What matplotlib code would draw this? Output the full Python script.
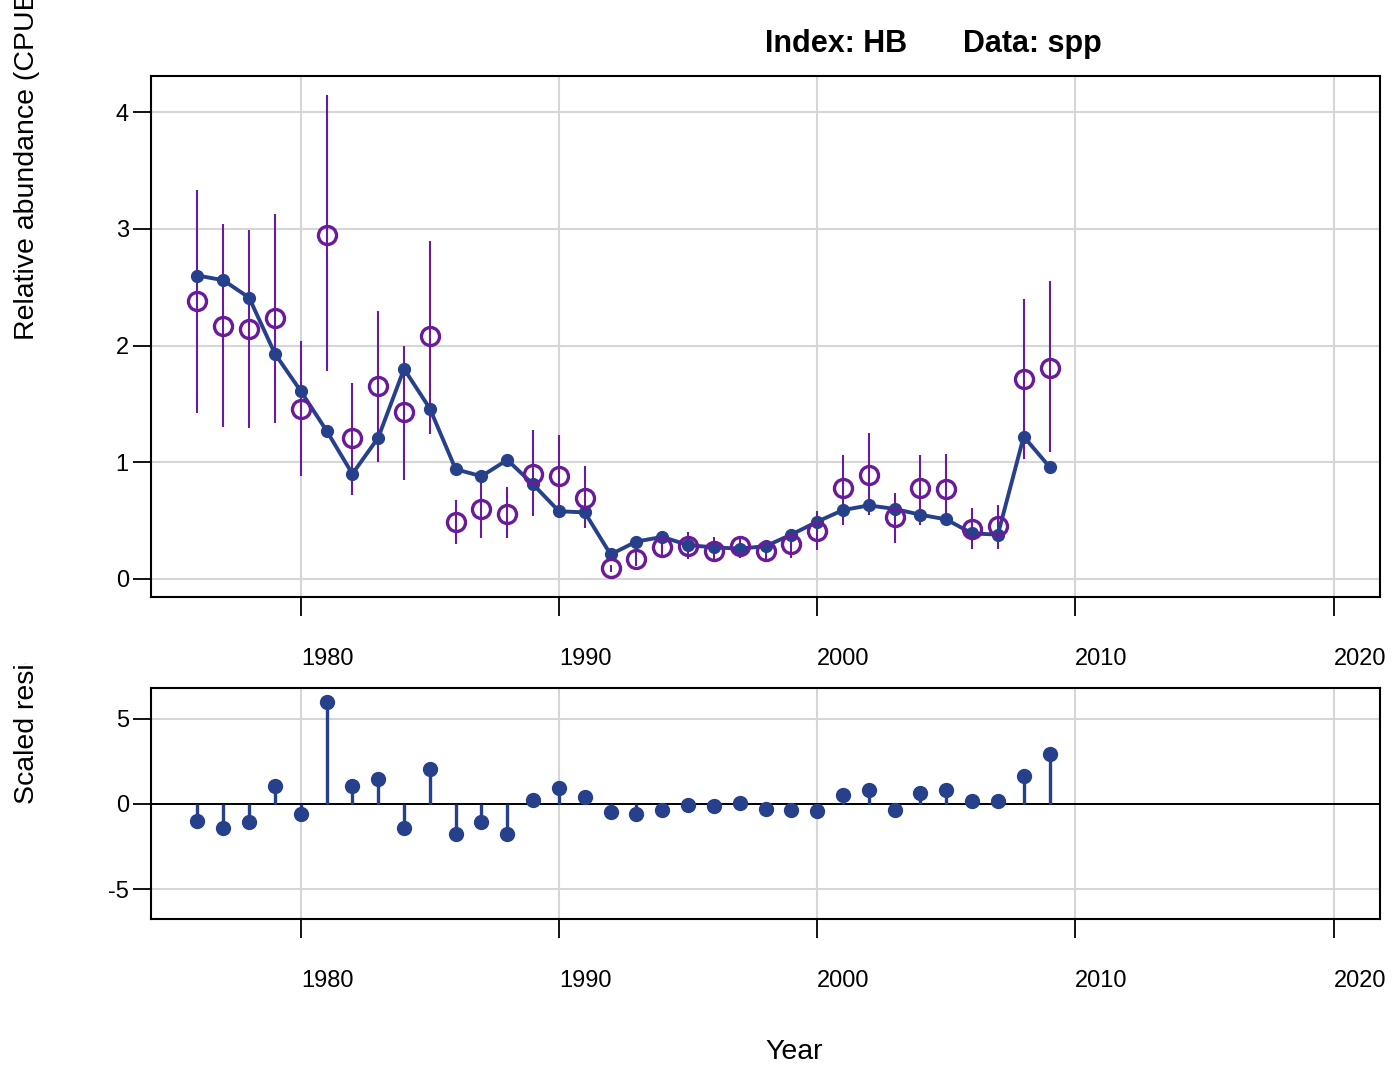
import matplotlib
matplotlib.use("Agg")
import matplotlib.pyplot as plt
from matplotlib.patches import Rectangle
import numpy as np

plt.rcParams['font.family'] = ['Liberation Sans', 'DejaVu Sans']
plt.rcParams['axes.unicode_minus'] = False

years = list(range(1976, 2010))
observed = [2.38, 2.17, 2.14, 2.24, 1.46, 2.95, 1.21, 1.65, 1.43, 2.08,
            0.49, 0.60, 0.56, 0.90, 0.88, 0.69, 0.09, 0.17, 0.27, 0.28,
            0.24, 0.28, 0.24, 0.30, 0.41, 0.78, 0.89, 0.53, 0.78, 0.77,
            0.43, 0.45, 1.71, 1.81]
predicted = [2.60, 2.56, 2.41, 1.93, 1.61, 1.27, 0.90, 1.21, 1.80, 1.46,
             0.94, 0.88, 1.02, 0.81, 0.58, 0.57, 0.21, 0.32, 0.36, 0.29,
             0.27, 0.26, 0.28, 0.38, 0.49, 0.59, 0.63, 0.60, 0.55, 0.51,
             0.39, 0.38, 1.22, 0.96]
ci_lower = [1.42, 1.30, 1.29, 1.34, 0.88, 1.78, 0.72, 1.00, 0.85, 1.24,
            0.30, 0.35, 0.35, 0.54, 0.56, 0.44, 0.06, 0.11, 0.19, 0.17,
            0.15, 0.18, 0.16, 0.18, 0.25, 0.46, 0.55, 0.31, 0.46, 0.46,
            0.26, 0.26, 1.03, 1.09]
ci_upper = [3.33, 3.04, 2.99, 3.13, 2.04, 4.15, 1.68, 2.30, 2.00, 2.90,
            0.68, 0.82, 0.79, 1.28, 1.23, 0.97, 0.12, 0.23, 0.33, 0.40,
            0.36, 0.36, 0.33, 0.39, 0.58, 1.06, 1.25, 0.74, 1.06, 1.07,
            0.61, 0.63, 2.40, 2.55]
residuals = [-0.98, -1.41, -1.07, 1.07, -0.62, 5.96, 1.07, 1.48, -1.41, 2.05,
             -1.74, -1.07, -1.74, 0.25, 0.94, 0.39, -0.49, -0.62, -0.37, -0.06,
             -0.14, 0.06, -0.27, -0.37, -0.39, 0.51, 0.84, -0.37, 0.64, 0.84,
             0.16, 0.16, 1.62, 2.95]

xticks = [1980, 1990, 2000, 2010, 2020]
yticks_top = [0, 1, 2, 3, 4]
yticks_bot = [-5, 0, 5]

title_index = "Index: HB"
title_data = "Data: spp"
xlabel = "Year"
ylabel_top = "Relative abundance (CPUE)"
ylabel_bot = "Scaled residuals"

BLUE = '#27408B'
PURPLE = '#6A1B9A'
GRID = '#D6D6D6'

W, H = 1393, 1065
fig = plt.figure(figsize=(W / 100, H / 100), dpi=100)

def frac_rect(l, t, r, b):
    return [l / W, 1 - b / H, (r - l) / W, (b - t) / H]

ax1 = fig.add_axes(frac_rect(151, 76, 1380, 597))
ax2 = fig.add_axes(frac_rect(151, 688, 1380, 919))

for ax in (ax1, ax2):
    ax.set_xlim(1974.2, 2021.8)
    ax.set_xticks(xticks)
    ax.set_xticklabels([str(x) for x in xticks])
    for lab in ax.get_xticklabels():
        lab.set_ha('left')
    ax.grid(True, color=GRID, linewidth=1.5)
    ax.set_axisbelow(True)
    for s in ax.spines.values():
        s.set_linewidth(1.5)
    ax.tick_params(axis='x', length=13.5, width=1.3, pad=23, labelsize=17)
    ax.tick_params(axis='y', length=13, width=1.3, pad=3, labelsize=17)

# Top panel
ax1.set_ylim(-0.155, 4.31)
ax1.set_yticks(yticks_top)
ax1.vlines(years, ci_lower, ci_upper, color=PURPLE, linewidth=1.5, zorder=2)
ax1.plot(years, predicted, color=BLUE, linewidth=2.8, marker='o',
         markersize=8.5, zorder=3)
ax1.plot(years, observed, linestyle='none', marker='o', markersize=13,
         markerfacecolor='none', markeredgecolor=PURPLE, markeredgewidth=2.4,
         zorder=4)

# Bottom panel
ax2.set_ylim(-6.75, 6.8)
ax2.set_yticks(yticks_bot)
ax2.axhline(0, color='black', linewidth=1.4, zorder=2)
ax2.vlines(years, 0, residuals, color=BLUE, linewidth=2.4, zorder=3)
ax2.plot(years, residuals, linestyle='none', marker='o', markersize=10,
         color=BLUE, zorder=4)

# Titles and labels (left-justified at axis centre)
fig.text(765 / W, 1 - 44 / H, title_index, fontsize=22, fontweight='bold',
         ha='left', va='center')
fig.text(963 / W, 1 - 44 / H, title_data, fontsize=22, fontweight='bold',
         ha='left', va='center')
fig.text(765 / W, 1 - 1059 / H, xlabel, fontsize=20.5, ha='left',
         va='baseline')

fig.text(27 / W, 1 - 340 / H, ylabel_top, fontsize=20.5, rotation=90,
         ha='center', va='bottom')
t = fig.text(27 / W, 1 - 804 / H, ylabel_bot, fontsize=20.5, rotation=90,
             ha='center', va='bottom')
clip = Rectangle((0, 0), 1, 1 - 663 / H, transform=fig.transFigure)
t.set_clip_path(clip)

fig.savefig('out.png', dpi=100)
